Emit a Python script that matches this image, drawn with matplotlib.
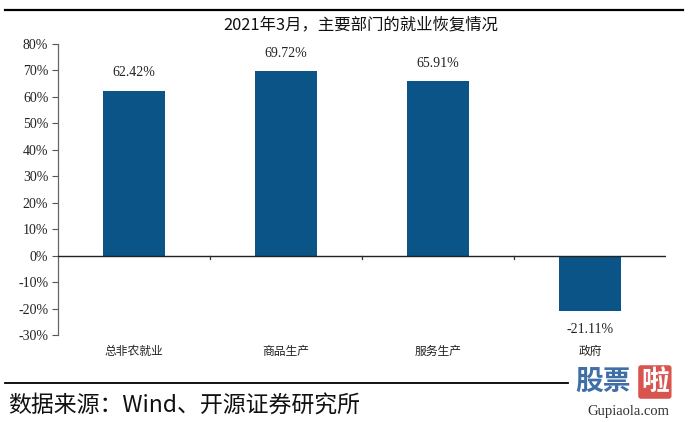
import matplotlib
matplotlib.use("Agg")
import matplotlib.pyplot as plt
from matplotlib.lines import Line2D
from matplotlib.ticker import FuncFormatter, MultipleLocator

categories = ["总非农就业", "商品生产", "服务生产", "政府"]
values = [62.42, 69.72, 65.91, -21.11]
title = "2021年3月，主要部门的就业恢复情况"
source = "数据来源：Wind、开源证券研究所"

cjk = ["Noto Sans CJK SC", "DejaVu Sans"]
serif = ["Liberation Serif", "DejaVu Serif"]
bar_color = "#0b5487"

W, H = 689, 422
fig = plt.figure(figsize=(W / 100, H / 100), dpi=100)
ax_bottom = 335
ax_top = 44
ax = fig.add_axes([58 / W, 1 - ax_bottom / H, (666 - 58) / W, (ax_bottom - ax_top) / H])

x = list(range(len(categories)))
ax.bar(x, values, width=0.41, color=bar_color, zorder=2)
ax.set_xlim(-0.5, len(categories) - 0.5)
ax.set_ylim(-30, 80)
ax.yaxis.set_major_locator(MultipleLocator(10))
ax.yaxis.set_major_formatter(FuncFormatter(lambda v, p: f"{v:.0f}%"))
for lab in ax.get_yticklabels():
    lab.set_fontfamily(serif)
    lab.set_fontsize(10)
    lab.set_color("#222222")
ax.tick_params(axis="y", direction="out", length=4, width=0.8, color="#555555", pad=3)

for s in ["top", "right", "bottom"]:
    ax.spines[s].set_visible(False)
ax.spines["left"].set_color("#666666")
ax.spines["left"].set_linewidth(0.9)

ax.axhline(0, color="#222222", lw=1.0, zorder=3)
ax.set_xticks([])
for b in [0.5, 1.5, 2.5]:
    ax.plot([b, b], [0, -1.3], color="#333333", lw=0.9, zorder=3, clip_on=False)

for xi, v in zip(x, values):
    if v >= 0:
        ax.annotate(f"{v:.2f}%", (xi, v), xytext=(0, 8), textcoords="offset points",
                    ha="center", va="bottom", fontsize=10, family=serif, color="#222222")
    else:
        ax.annotate(f"{v:.2f}%", (xi, v), xytext=(0, -8), textcoords="offset points",
                    ha="center", va="top", fontsize=10, family=serif, color="#222222")

label_y = -(351 - ax_bottom) / (ax_bottom - ax_top)
for xi, c in zip(x, categories):
    ax.text(xi, label_y, c, transform=ax.get_xaxis_transform(), ha="center", va="center",
            fontsize=8.5, family=cjk, color="#222222")

# figure-level decorations
fig.add_artist(Line2D([5 / W, 683 / W], [1 - 10 / H, 1 - 10 / H], color="black", lw=1.6))
fig.text(361 / W, 1 - 25 / H, title, ha="center", va="center", fontsize=11.8, family=cjk, color="#111111")
fig.add_artist(Line2D([5 / W, 568 / W], [1 - 383 / H, 1 - 383 / H], color="black", lw=1.3))
fig.text(8 / W, 1 - 406 / H, source, ha="left", va="center", fontsize=16.5, family=cjk, color="#111111")

# watermark
fig.text(575 / W, 1 - 382 / H, "股票", ha="left", va="center", fontsize=20, family=cjk,
         color="#3f6fa6", fontweight="bold")
fig.text(641 / W, 1 - 382 / H, "啦", ha="left", va="center", fontsize=20, family=cjk,
         color="white", fontweight="bold",
         bbox=dict(boxstyle="round,pad=0.1", fc="#d9534f", ec="none"))
fig.text(628 / W, 1 - 411 / H, "Gupiaola.com", ha="center", va="center", fontsize=10.5,
         family=serif, color="#333333")

fig.savefig("out.png", dpi=100)
